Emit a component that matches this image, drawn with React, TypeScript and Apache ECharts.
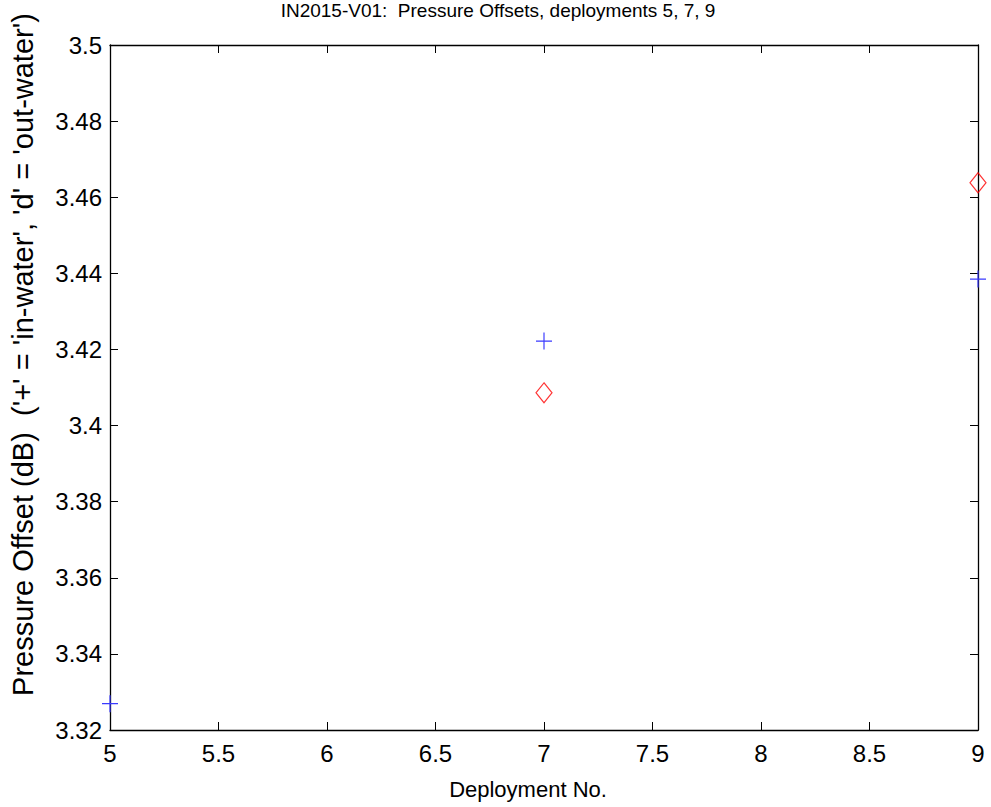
import React, { useEffect, useRef } from "react";
import * as echarts from "echarts";

const deployments = [5, 7, 9];
const inWater = [3.3269, 3.4222, 3.4385];
const outDeployments = [7, 9];
const outWater = [3.4086, 3.4638];
const xTicks = { min: 5, max: 9, interval: 0.5 };
const yTicks = { min: 3.32, max: 3.5, interval: 0.02 };

const titleText = "IN2015-V01:\u00A0\u00A0Pressure Offsets, deployments 5, 7, 9";
const yName = "Pressure Offset (dB)\u00A0\u00A0('+' = 'in-water', 'd' = 'out-water')";
const xName = "Deployment No.";

const FONT = "'Liberation Sans', Arial, sans-serif";

export default function App() {
  const ref = useRef<HTMLDivElement>(null);
  useEffect(() => {
    const chart = echarts.init(ref.current!, null, { renderer: "svg" });
    const fmt = (v: number) => String(parseFloat(v.toFixed(2)));
    const axisCommon = {
      axisLine: { show: true, onZero: false, lineStyle: { color: "#000", width: 1.3 } },
      axisTick: { show: true, inside: true, length: 8, lineStyle: { color: "#000", width: 1 } },
      splitLine: { show: false },
    };
    chart.setOption({
      animation: false,
      backgroundColor: "#fff",
      grid: { left: 110, right: 13, top: 45, bottom: 77 },
      graphic: [
        {
          type: "text",
          x: 498,
          y: 10,
          style: {
            text: titleText,
            font: `19px ${FONT}`,
            fill: "#000",
            textAlign: "center",
            textVerticalAlign: "middle",
          },
        },
        {
          type: "text",
          x: 528,
          y: 789,
          style: {
            text: xName,
            font: `22px ${FONT}`,
            fill: "#000",
            textAlign: "center",
            textVerticalAlign: "middle",
          },
        },
        {
          type: "text",
          x: 23,
          y: 354.5,
          rotation: Math.PI / 2,
          style: {
            text: yName,
            font: `29px ${FONT}`,
            fill: "#000",
            textAlign: "center",
            textVerticalAlign: "middle",
          },
        },
      ],
      xAxis: [
        {
          type: "value",
          position: "bottom",
          min: xTicks.min,
          max: xTicks.max,
          interval: xTicks.interval,
          axisLabel: { formatter: fmt, fontFamily: FONT, fontSize: 24, color: "#000", margin: 11 },
          ...axisCommon,
        },
        {
          type: "value",
          position: "top",
          min: xTicks.min,
          max: xTicks.max,
          interval: xTicks.interval,
          axisLabel: { show: false },
          ...axisCommon,
        },
      ],
      yAxis: [
        {
          type: "value",
          position: "left",
          min: yTicks.min,
          max: yTicks.max,
          interval: yTicks.interval,
          axisLabel: { formatter: fmt, fontFamily: FONT, fontSize: 24, color: "#000", margin: 8 },
          ...axisCommon,
        },
        {
          type: "value",
          position: "right",
          min: yTicks.min,
          max: yTicks.max,
          interval: yTicks.interval,
          axisLabel: { show: false },
          ...axisCommon,
        },
      ],
      series: [
        {
          type: "scatter",
          clip: false,
          xAxisIndex: 0,
          yAxisIndex: 0,
          data: deployments.map((d, i) => [d, inWater[i]]),
          symbol: "path://M8,0 L8,16 M0,8 L16,8",
          symbolSize: [16, 17],
          itemStyle: { color: "none", borderColor: "#3a3aff", borderWidth: 1.2, opacity: 1 },
        },
        {
          type: "scatter",
          clip: false,
          xAxisIndex: 0,
          yAxisIndex: 0,
          data: outDeployments.map((d, i) => [d, outWater[i]]),
          symbol: "diamond",
          symbolSize: [16, 20],
          itemStyle: { color: "rgba(255,255,255,0)", borderColor: "#ff0000", borderWidth: 1.2 },
        },
      ],
    });
    return () => chart.dispose();
  }, []);
  return <div ref={ref} style={{ width: 991, height: 807, position: "absolute", left: 0, top: 0 }} />;
}
